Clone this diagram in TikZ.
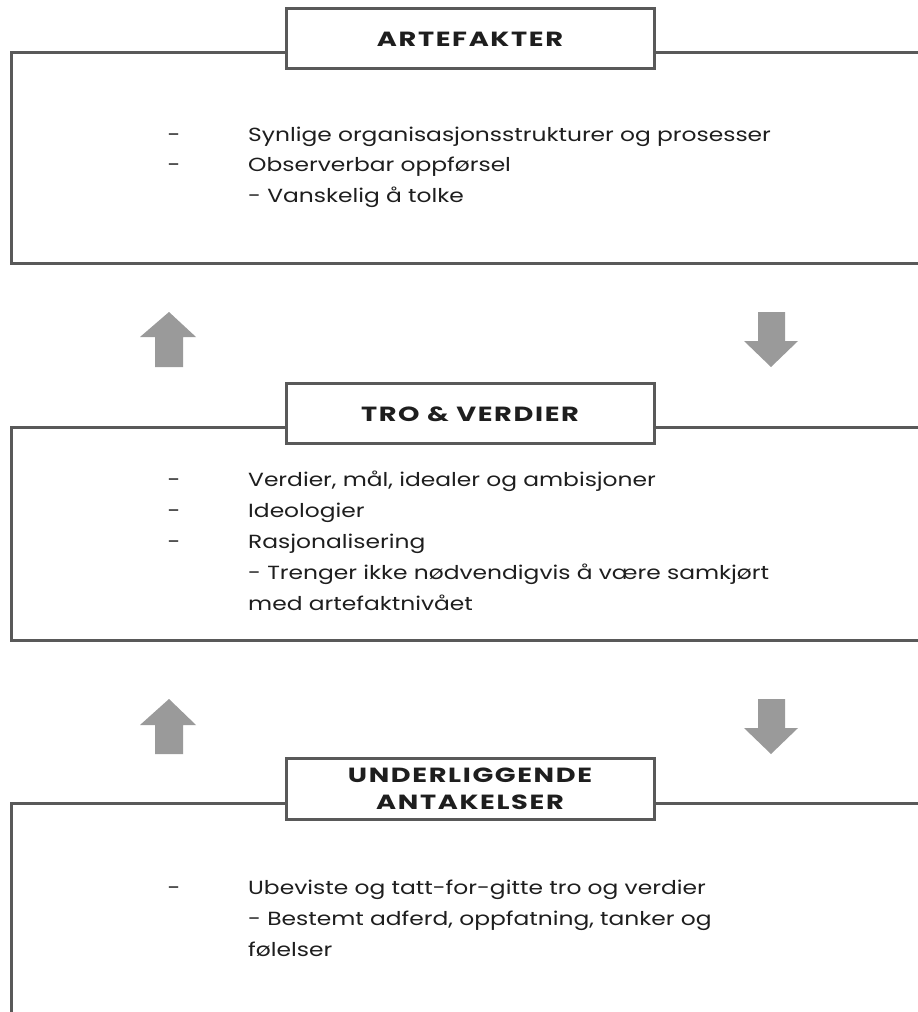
\documentclass[tikz,border=0pt]{standalone}
\usepackage{fontspec}
\setmainfont{Poppins}
\newfontfamily\bodyfont[FakeStretch=1.23]{Poppins}
\newfontfamily\titlefont[FakeStretch=1.33,LetterSpace=8]{Poppins}
\definecolor{linegray}{HTML}{595959}
\definecolor{arrowgray}{HTML}{9A9A9A}
\definecolor{txt}{HTML}{1E1E1E}
\begin{document}
\begin{tikzpicture}[x=1pt,y=-1pt,
  outer/.style={draw=linegray,line width=3pt},
  titlebox/.style={draw=linegray,fill=white,line width=3pt},
  titletext/.style={anchor=base,inner sep=0pt,font=\titlefont\fontsize{20.5}{22}\selectfont\bfseries,text=txt},
  item/.style={anchor=base west,inner sep=0pt,font=\bodyfont\fontsize{19}{21}\selectfont,text=txt},
  bullet/.style={anchor=base,inner sep=0pt,font=\bodyfont\fontsize{19}{21}\selectfont,text=txt},
  bigarrow/.style={fill=arrowgray}]
\clip (0,0) rectangle (918,1012);
\fill[white] (0,0) rectangle (918,1012);
% ---------- Box 1
\draw[outer] (940,52) -- (11,52) -- (11,263.5) -- (940,263.5);
\draw[titlebox] (286,8) rectangle (654,68);
\node[titletext] (t1) at (470,46) {ARTEFAKTER};
\node[bullet] (d11) at (174,141.5) {-};
\node[item] (a11) at (248,141.5) {Synlige organisasjonsstrukturer og prosesser};
\node[bullet] (d12) at (174,171.5) {-};
\node[item] (a12) at (248,171.5) {Observerbar oppførsel};
\node[item] (a13) at (248,202.5) {- Vanskelig å tolke};
% ---------- arrows 1
\fill[bigarrow] (169,312) -- (196,337) -- (183,337) -- (183,367) -- (155,367) -- (155,337) -- (140,337) -- cycle;
\fill[bigarrow] (771,367) -- (798,341) -- (785,341) -- (785,312) -- (758,312) -- (758,341) -- (744,341) -- cycle;
% ---------- Box 2
\draw[outer] (940,427) -- (11,427) -- (11,640) -- (940,640);
\draw[titlebox] (286,383) rectangle (654,443);
\node[titletext] (t2) at (470,421) {TRO \& VERDIER};
\node[bullet] (d21) at (174,486.5) {-};
\node[item] (a21) at (248,486.5) {Verdier, mål, idealer og ambisjoner};
\node[bullet] (d22) at (174,517.5) {-};
\node[item] (a22) at (248,517.5) {Ideologier};
\node[bullet] (d23) at (174,548.5) {-};
\node[item] (a23) at (248,548.5) {Rasjonalisering};
\node[item] (a24) at (248,579.5) {- Trenger ikke nødvendigvis å være samkjørt};
\node[item] (a25) at (248,610.5) {med artefaktnivået};
% ---------- arrows 2
\fill[bigarrow] (169,699) -- (196,725) -- (183,725) -- (183,754) -- (155,754) -- (155,725) -- (140,725) -- cycle;
\fill[bigarrow] (771,754) -- (798,728) -- (785,728) -- (785,699) -- (758,699) -- (758,728) -- (744,728) -- cycle;
% ---------- Box 3
\draw[outer] (940,803) -- (11,803) -- (11,1030);
\draw[titlebox] (286,758) rectangle (654,819);
\node[titletext] (t3a) at (470,782) {UNDERLIGGENDE};
\node[titletext] (t3b) at (470,809) {ANTAKELSER};
\node[bullet] (d31) at (174,894.5) {-};
\node[item] (a31) at (248,894.5) {Ubeviste og tatt-for-gitte tro og verdier};
\node[item] (a32) at (248,925.5) {- Bestemt adferd, oppfatning, tanker og};
\node[item] (a33) at (248,956.5) {følelser};
\end{tikzpicture}
\end{document}
